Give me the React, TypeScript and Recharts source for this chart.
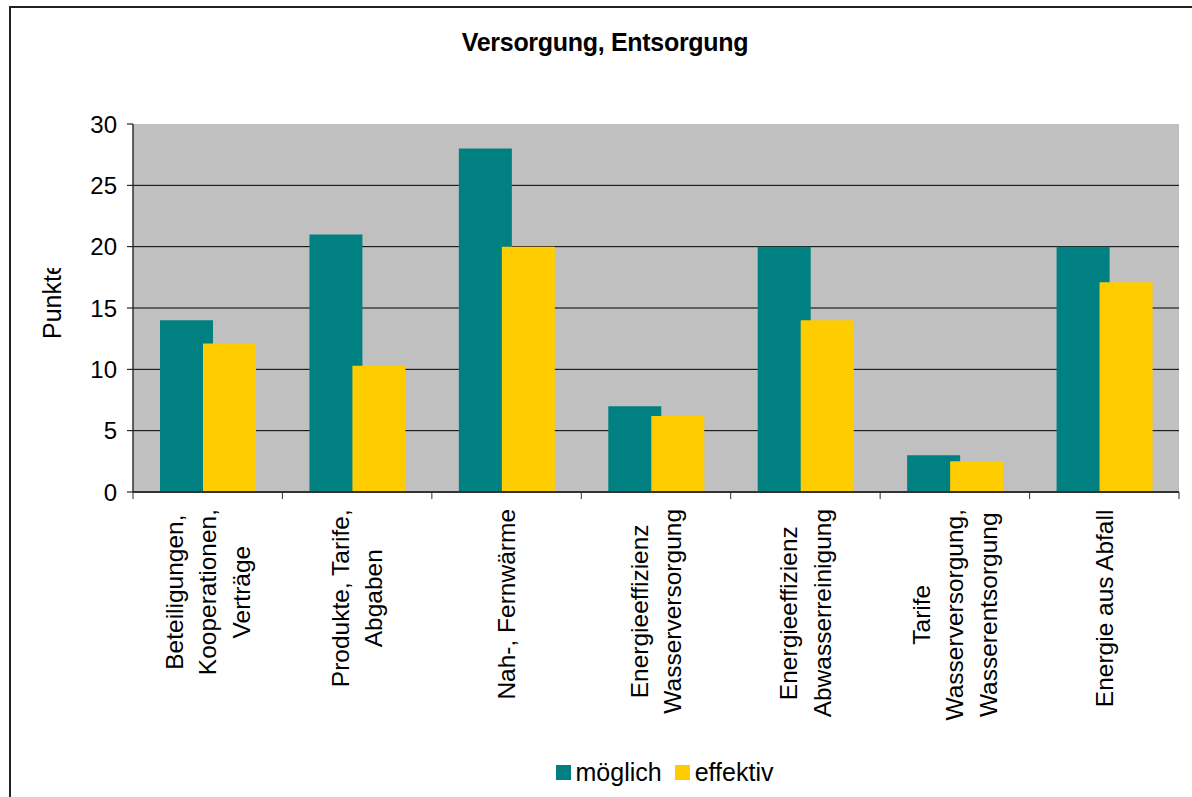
import React from "react";
import { BarChart, Bar, XAxis, YAxis, CartesianGrid, Legend } from "recharts";

const categories: string[][] = [
  ["Beteiligungen,", "Kooperationen,", "Verträge"],
  ["Produkte, Tarife,", "Abgaben"],
  ["Nah-, Fernwärme"],
  ["Energieeffizienz", "Wasserversorgung"],
  ["Energieeffizienz", "Abwasserreinigung"],
  ["Tarife", "Wasserversorgung,", "Wasserentsorgung"],
  ["Energie aus Abfall"],
];
const moeglich = [14, 21, 28, 7, 20, 3, 20];
const effektiv = [12.1, 10.3, 20, 6.2, 14, 2.5, 17.1];
const yTicks = [0, 5, 10, 15, 20, 25, 30];

const data = categories.map((lines, i) => ({
  name: lines.join(" "),
  moeglich: moeglich[i],
  effektiv: effektiv[i],
}));

const FONT = '"Liberation Sans", Arial, sans-serif';
const TEAL = "#008080";
const YELLOW = "#ffcc00";
const CAT_FS = 24.5;
const LINE_H = 33.5;

let ctx: CanvasRenderingContext2D | null = null;
function textWidth(s: string) {
  if (!ctx) ctx = document.createElement("canvas").getContext("2d");
  if (!ctx) return s.length * CAT_FS * 0.55;
  ctx.font = `${CAT_FS}px ${FONT}`;
  return ctx.measureText(s).width;
}

function CategoryTick(props: any) {
  const { x, y, payload, index } = props;
  const lines = categories[index] || [String(payload.value)];
  const half = payload.offset || 74.7;
  const maxLen = Math.max(...lines.map(textWidth));
  const top = y + 17;
  const n = lines.length;
  return (
    <g>
      <line x1={x - half} x2={x - half} y1={y} y2={y + 7} stroke="#333" />
      {index === categories.length - 1 && (
        <line x1={x + half} x2={x + half} y1={y} y2={y + 7} stroke="#333" />
      )}
      <text
        transform={`translate(${x},${top}) rotate(-90)`}
        fontFamily={FONT}
        fontSize={CAT_FS}
        fill="#000"
        textAnchor="middle"
      >
        {lines.map((l, i) => (
          <tspan key={i} x={-maxLen / 2} y={(i - (n - 1) / 2) * LINE_H} dy="0.35em">
            {l}
          </tspan>
        ))}
      </text>
    </g>
  );
}

function YLabel(props: any) {
  const vb = props.viewBox || { x: 73 };
  const cx = vb.x - 21;
  return (
    <g>
      <defs>
        <clipPath id="ylabel-clip">
          <rect x={cx - 30} y={268} width={60} height={120} />
        </clipPath>
      </defs>
      <g clipPath="url(#ylabel-clip)">
        <text
          transform={`translate(${cx},339) rotate(-90)`}
          fontFamily={FONT}
          fontSize={25}
          fill="#000"
          dy="0.35em"
        >
          Punkte
        </text>
      </g>
    </g>
  );
}

function LegendContent() {
  const item = (color: string, label: string) => (
    <div style={{ display: "flex", alignItems: "center", marginRight: 13 }}>
      <div style={{ width: 15, height: 15, background: color, marginRight: 5 }} />
      <span style={{ fontFamily: FONT, fontSize: 25, color: "#000", lineHeight: "28px" }}>{label}</span>
    </div>
  );
  return (
    <div style={{ display: "flex", justifyContent: "center" }}>
      {item(TEAL, "möglich")}
      {item(YELLOW, "effektiv")}
    </div>
  );
}

export default function App() {
  return (
    <div style={{ position: "absolute", left: 0, top: 0, width: 1192, height: 797, background: "#fff", overflow: "hidden" }}>
      <div
        style={{
          position: "absolute", left: 9, top: 6, width: 1300, height: 900,
          borderLeft: "2px solid #222", borderTop: "2px solid #222",
        }}
      />
      <div
        style={{
          position: "absolute", left: 0, width: 1210, top: 28, textAlign: "center",
          fontFamily: FONT, fontWeight: 700, fontSize: 25, letterSpacing: -0.3, color: "#000",
        }}
      >
        Versorgung, Entsorgung
      </div>
      <div style={{ position: "absolute", left: 0, top: 0 }}>
        <BarChart
          width={1192}
          height={797}
          data={data}
          margin={{ top: 124, right: 13, bottom: 0, left: 73 }}
          barSize={53}
          barGap={-10}
        >
          <CartesianGrid
            vertical={false}
            horizontalValues={[5, 10, 15, 20, 25]}
            stroke="#000"
            fill="#c0c0c0"
            fillOpacity={1}
          />
          <XAxis
            dataKey="name"
            height={305}
            interval={0}
            tickLine={false}
            tickSize={0}
            tickMargin={0}
            axisLine={{ stroke: "#333", strokeWidth: 2 }}
            tick={<CategoryTick />}
          />
          <XAxis
            xAxisId="top"
            dataKey="name"
            orientation="top"
            height={0}
            tick={false}
            tickLine={false}
            axisLine={{ stroke: "#808080", strokeWidth: 2 }}
          />
          <YAxis
            width={60}
            domain={[0, 30]}
            ticks={yTicks}
            interval={0}
            tickSize={6}
            tickMargin={10}
            tickLine={{ stroke: "#000" }}
            axisLine={{ stroke: "#333", strokeWidth: 1.5 }}
            tick={{ fontFamily: FONT, fontSize: 24, fill: "#000" }}
            label={<YLabel />}
          />
          <YAxis
            yAxisId="right"
            orientation="right"
            width={0}
            domain={[0, 30]}
            tick={false}
            tickLine={false}
            axisLine={{ stroke: "#808080", strokeWidth: 2 }}
          />
          <Legend
            verticalAlign="middle"
            layout="horizontal"
            content={<LegendContent />}
            wrapperStyle={{ top: 758, left: 148, width: 1046 }}
          />
          <Bar dataKey="moeglich" name="möglich" fill={TEAL} isAnimationActive={false} />
          <Bar dataKey="effektiv" name="effektiv" fill={YELLOW} isAnimationActive={false} />
        </BarChart>
      </div>
    </div>
  );
}
